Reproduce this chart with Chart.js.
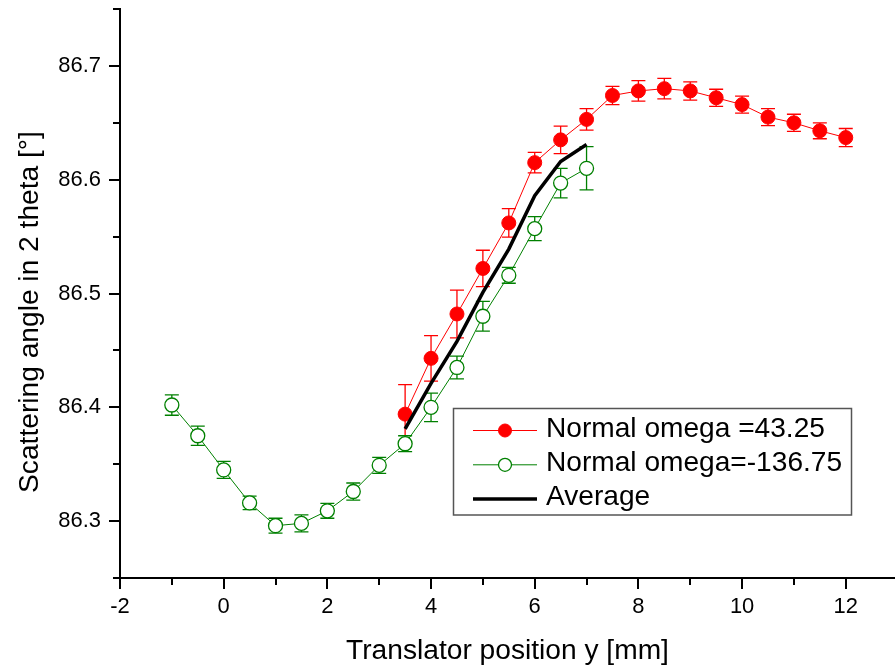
<!DOCTYPE html>
<html><head><meta charset="utf-8">
<script src="https://cdn.jsdelivr.net/npm/chart.js@4.4.1/dist/chart.umd.min.js"></script>
<style>html,body{margin:0;padding:0;background:#fff;overflow:hidden}canvas{display:block}</style>
</head><body>
<canvas id="c" width="895" height="668"></canvas>
<script>
// ---- data ----
const seriesLabels = ['Normal omega =43.25', 'Normal omega=-136.75', 'Average'];
const xTitle = 'Translator position y [mm]';
const yTitle = 'Scattering angle in 2 theta [°]';
const xTickValues = [-2, 0, 2, 4, 6, 8, 10, 12];
const yTickValues = [86.3, 86.4, 86.5, 86.6, 86.7];

const redX = [3.5, 4, 4.5, 5, 5.5, 6, 6.5, 7, 7.5, 8, 8.5, 9, 9.5, 10, 10.5, 11, 11.5, 12];
const redY = [86.394, 86.443, 86.482, 86.522, 86.562, 86.615, 86.635, 86.653, 86.674, 86.678, 86.680, 86.678, 86.672, 86.666, 86.655, 86.650, 86.643, 86.637];
const redErr = [0.026, 0.020, 0.021, 0.016, 0.0125, 0.009, 0.012, 0.0095, 0.008, 0.009, 0.009, 0.008, 0.0075, 0.0075, 0.0075, 0.0075, 0.007, 0.008];

const greenX = [-1, -0.5, 0, 0.5, 1, 1.5, 2, 2.5, 3, 3.5, 4, 4.5, 5, 5.5, 6, 6.5, 7];
const greenY = [86.402, 86.375, 86.345, 86.316, 86.296, 86.298, 86.309, 86.326, 86.349, 86.368, 86.400, 86.435, 86.480, 86.516, 86.557, 86.597, 86.610];
const greenErr = [0.009, 0.0085, 0.0075, 0.006, 0.0065, 0.0075, 0.0065, 0.0075, 0.007, 0.007, 0.0125, 0.010, 0.013, 0.007, 0.0105, 0.013, 0.019];

const avgX = [3.5, 4, 4.5, 5, 5.5, 6, 6.5, 7];
const avgY = [86.381, 86.421, 86.458, 86.501, 86.539, 86.586, 86.616, 86.631];

// ---- fonts: size chosen so text widths match the reference ----
const FAMILY = '"Liberation Sans Narrow", "Liberation Sans", Arial, sans-serif';
const mctx = document.createElement('canvas').getContext('2d');
function fitSize(text, w) { mctx.font = '100px ' + FAMILY; return 100 * w / mctx.measureText(text).width; }
const tickSize = fitSize('86.7', 42.7);
const titleSize = fitSize(xTitle, 323);
const legendSize = fitSize(seriesLabels[0], 279);

const pts = (xs, ys) => xs.map((x, i) => ({ x: x, y: ys[i] }));

const errorBars = {
  id: 'errorBars',
  beforeDatasetsDraw(chart) {
    const ctx = chart.ctx, xs = chart.scales.x, ys = chart.scales.y;
    chart.data.datasets.forEach((ds) => {
      if (!ds.errors) return;
      ctx.save();
      ctx.strokeStyle = ds.borderColor;
      ctx.lineWidth = 1.3;
      ds.data.forEach((p, i) => {
        const e = ds.errors[i];
        const px = xs.getPixelForValue(p.x);
        const t = ys.getPixelForValue(p.y + e), b = ys.getPixelForValue(p.y - e);
        ctx.beginPath();
        ctx.moveTo(px, t); ctx.lineTo(px, b);
        ctx.moveTo(px - 7, t); ctx.lineTo(px + 7, t);
        ctx.moveTo(px - 7, b); ctx.lineTo(px + 7, b);
        ctx.stroke();
      });
      ctx.restore();
    });
  }
};

const minorTicks = {
  id: 'minorTicks',
  afterDraw(chart) {
    const ctx = chart.ctx, xs = chart.scales.x, ys = chart.scales.y, a = chart.chartArea;
    ctx.save();
    ctx.strokeStyle = '#000'; ctx.lineWidth = 2;
    const xt = xs.ticks.map(t => t.value), xstep = xt[1] - xt[0];
    ctx.beginPath();
    xt.forEach(v => { const p = Math.round(xs.getPixelForValue(v + xstep / 2)); ctx.moveTo(p, a.bottom); ctx.lineTo(p, a.bottom + 7); });
    const yt = ys.ticks.map(t => t.value), ystep = yt[1] - yt[0];
    [yt[0] - ystep / 2].concat(yt.map(v => v + ystep / 2)).forEach(v => {
      const p = Math.round(ys.getPixelForValue(v)); ctx.moveTo(a.left, p); ctx.lineTo(a.left - 7, p);
    });
    ctx.stroke();
    ctx.restore();
  }
};

const yTitlePlugin = {
  id: 'yTitle',
  afterDraw(chart) {
    const ctx = chart.ctx;
    ctx.save();
    ctx.translate(37.5, 312);
    ctx.rotate(-Math.PI / 2);
    ctx.font = titleSize + 'px ' + FAMILY;
    ctx.fillStyle = '#000';
    ctx.textAlign = 'center';
    ctx.textBaseline = 'alphabetic';
    ctx.fillText(chart.scales.y.options.title.text, 0, 0);
    ctx.restore();
  }
};

const legendPlugin = {
  id: 'boxLegend',
  afterDraw(chart) {
    const ctx = chart.ctx;
    const order = [1, 2, 0];
    const rows = [430.5, 464.8, 499];
    ctx.save();
    ctx.fillStyle = '#fff';
    ctx.fillRect(453.5, 408.5, 398, 106.5);
    ctx.strokeStyle = '#555'; ctx.lineWidth = 1.5;
    ctx.strokeRect(453.5, 408.5, 398, 106.5);
    order.forEach((di, r) => {
      const ds = chart.data.datasets[di], y = rows[r];
      ctx.strokeStyle = ds.borderColor;
      ctx.lineWidth = ds.borderWidth;
      ctx.beginPath(); ctx.moveTo(473, y); ctx.lineTo(537, y); ctx.stroke();
      if (ds.pointRadius > 0) {
        ctx.beginPath(); ctx.arc(505, y, ds.pointRadius - 0.5, 0, Math.PI * 2);
        ctx.fillStyle = ds.pointBackgroundColor; ctx.fill();
        ctx.lineWidth = ds.pointBorderWidth; ctx.strokeStyle = ds.pointBorderColor; ctx.stroke();
      }
      ctx.fillStyle = '#000';
      ctx.font = legendSize + 'px ' + FAMILY;
      ctx.textAlign = 'left'; ctx.textBaseline = 'middle';
      ctx.fillText(ds.label, 546, y - 1.5);
    });
    ctx.restore();
  }
};

Chart.defaults.font.family = FAMILY;
Chart.defaults.color = '#000';

new Chart(document.getElementById('c'), {
  type: 'scatter',
  data: {
    datasets: [
      { label: seriesLabels[2], data: pts(avgX, avgY), showLine: true, borderColor: '#000000', borderWidth: 3.5, pointRadius: 0, order: 0 },
      { label: seriesLabels[0], data: pts(redX, redY), errors: redErr, showLine: true, borderColor: '#ff0000', borderWidth: 1,
        pointRadius: 7, pointBackgroundColor: '#ff0000', pointBorderColor: '#ff0000', pointBorderWidth: 1, order: 1 },
      { label: seriesLabels[1], data: pts(greenX, greenY), errors: greenErr, showLine: true, borderColor: '#008000', borderWidth: 1,
        pointRadius: 7, pointBackgroundColor: '#ffffff', pointBorderColor: '#008000', pointBorderWidth: 1.3, order: 2 }
    ]
  },
  options: {
    responsive: false, animation: false, devicePixelRatio: 1,
    layout: { autoPadding: false, padding: { top: 9, left: 0, right: 0, bottom: 0 } },
    plugins: { legend: { display: false }, tooltip: { enabled: false } },
    scales: {
      x: {
        type: 'linear', min: -2, max: 12.95,
        afterBuildTicks: s => { s.ticks = xTickValues.map(v => ({ value: v })); },
        afterFit: s => { s.height = 90; s.paddingLeft = 0; s.paddingRight = 0; },
        ticks: { font: { size: tickSize }, color: '#000', padding: 5, maxRotation: 0, autoSkip: false },
        grid: { drawOnChartArea: false, drawTicks: true, tickLength: 11, color: '#000', lineWidth: 2 },
        border: { display: true, color: '#000', width: 2 },
        title: { display: true, text: xTitle, font: { size: titleSize }, color: '#000', padding: { top: 0, bottom: 0 } }
      },
      y: {
        type: 'linear', min: 86.25, max: 86.75,
        afterBuildTicks: s => { s.ticks = yTickValues.map(v => ({ value: v })); },
        afterFit: s => { s.width = 120; s.paddingTop = 0; s.paddingBottom = 0; },
        ticks: { font: { size: tickSize }, color: '#000', padding: 8, autoSkip: false, callback: v => v.toFixed(1) },
        grid: { drawOnChartArea: false, drawTicks: true, tickLength: 11, color: '#000', lineWidth: 2 },
        border: { display: true, color: '#000', width: 2 },
        title: { display: false, text: yTitle }
      }
    }
  },
  plugins: [errorBars, minorTicks, yTitlePlugin, legendPlugin]
});
</script>
</body></html>
